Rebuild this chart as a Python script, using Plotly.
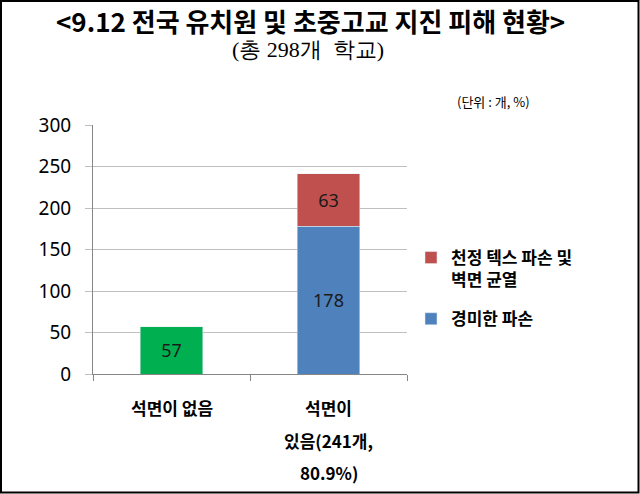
import plotly.graph_objects as go

categories = ["석면이 없음", "석면이<br>있음(241개,<br>80.9%)"]
no_asbestos = [57, None]
minor_damage = [None, 178]
ceiling_damage = [None, 63]
series_names = ["석면이 없음", "경미한 파손", "천정 텍스 파손 및<br>벽면 균열"]
y_ticks = [0, 50, 100, 150, 200, 250, 300]

W, H = 640, 494
ML, MR, MT, MB = 93, 233, 125, 120
PW, PH = W - ML - MR, H - MT - MB

KFONT = "Noto Sans CJK KR, Noto Sans, sans-serif"
NFONT = "Noto Sans, Noto Sans CJK KR, sans-serif"


def py(p):
    """pixel row from top -> paper y"""
    return (H - MB - p) / PH


def px(p):
    return (p - ML) / PW


def labels(vals):
    return ["" if v is None else str(v) for v in vals]


common = dict(textposition="inside", insidetextanchor="middle", textangle=0,
              textfont=dict(size=18, color="#1a1a1a", family=NFONT))

fig = go.Figure()
fig.add_trace(go.Bar(x=categories, y=no_asbestos, name=series_names[0], marker_color="#00B050",
                     showlegend=False, text=labels(no_asbestos), **common))
fig.add_trace(go.Bar(x=categories, y=minor_damage, name=series_names[1], marker_color="#4F81BD",
                     text=labels(minor_damage), legendgroup="b", legendrank=2, **common))
fig.add_trace(go.Bar(x=categories, y=ceiling_damage, name=series_names[2], marker_color="#C0504D",
                     text=labels(ceiling_damage), legendgroup="a", legendrank=1, **common))

# x category labels, one line per annotation for wider line spacing
line_gap = 32.5
for cat in categories:
    for i, line in enumerate(cat.split("<br>")):
        fig.add_annotation(x=cat, xref="x", y=0, yref="paper", yanchor="top",
                           text=line, showarrow=False, yshift=-19 - i * line_gap,
                           font=dict(size=17, color="#000", family=KFONT, weight="bold"))

fig.add_annotation(x=px(310), xref="paper", xanchor="center", y=py(20), yref="paper", yanchor="middle",
                   text="<b>&lt;9.12 전국 유치원 및 초중고교 지진 피해 현황&gt;</b>", showarrow=False,
                   font=dict(size=26, color="#000", family=KFONT))
fig.add_annotation(x=px(308), xref="paper", xanchor="center", y=py(49), yref="paper", yanchor="middle",
                   text="(총 298개\u00a0\u00a0학교)", showarrow=False,
                   font=dict(size=22, color="#000", family="Liberation Serif"))
fig.add_annotation(x=px(493), xref="paper", xanchor="center", y=py(102), yref="paper", yanchor="middle",
                   text="(단위 : 개, %)", showarrow=False,
                   font=dict(size=13, color="#000", family=KFONT))

# outer border
fig.add_shape(type="rect", xref="paper", yref="paper",
              x0=px(1), x1=px(W - 1.5), y0=py(H - 1.5), y1=py(1),
              line=dict(color="#000", width=2))

fig.update_layout(
    width=W, height=H,
    margin=dict(l=ML, r=MR, t=MT, b=MB),
    barmode="stack", bargap=0.6,
    plot_bgcolor="white", paper_bgcolor="white",
    showlegend=True,
    legend=dict(x=px(411), xanchor="left", y=py(240), yanchor="top",
                traceorder="grouped", valign="top", tracegroupgap=14,
                font=dict(size=17, color="#000", family=KFONT, weight="bold"),
                bgcolor="rgba(0,0,0,0)"),
    xaxis=dict(showgrid=False, showticklabels=False, ticks="outside", tickson="boundaries",
               ticklen=6, tickcolor="#868686", showline=True, linecolor="#868686", linewidth=1),
    yaxis=dict(range=[0, 300], tickvals=y_ticks, showgrid=True, gridcolor="#BFBFBF", gridwidth=1,
               ticks="outside", ticklen=7, tickcolor="#BFBFBF", showline=True, linecolor="#868686",
               linewidth=1, zeroline=False, ticklabelstandoff=10,
               tickfont=dict(size=19, color="#000", family=NFONT)),
)
fig.write_html("out.html", config={"displayModeBar": False},
               post_script="document.body.style.margin='0';document.body.style.overflow='hidden';")
